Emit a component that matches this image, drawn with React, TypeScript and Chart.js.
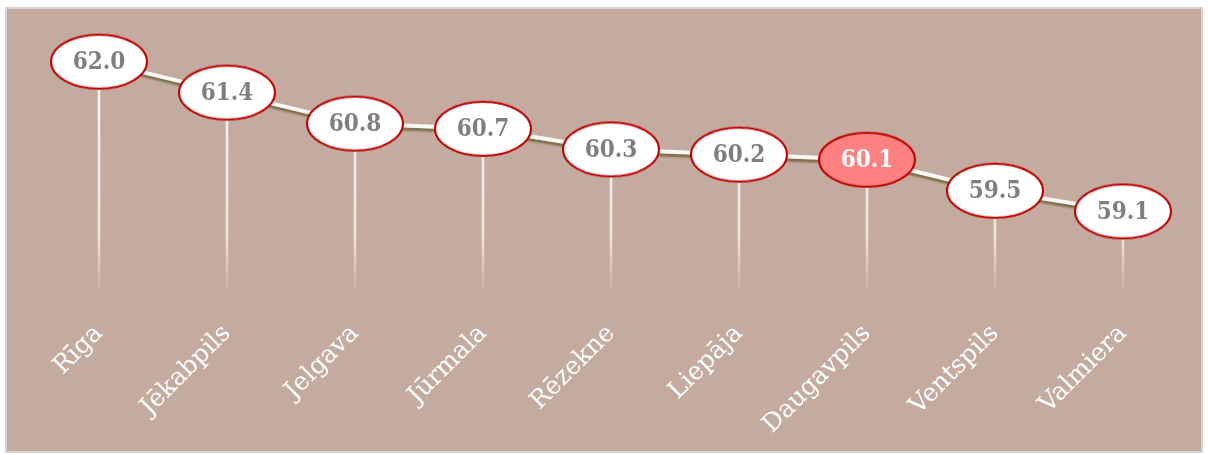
import React, { useEffect, useRef } from "react";
import { Chart, registerables } from "chart.js";

Chart.register(...registerables);

const categories = ["Rīga", "Jēkabpils", "Jelgava", "Jūrmala", "Rēzekne", "Liepāja", "Daugavpils", "Ventspils", "Valmiera"];
const values = [62.0, 61.4, 60.8, 60.7, 60.3, 60.2, 60.1, 59.5, 59.1];
const highlightIndex = 6;
const yMin = 57.5;
const yMax = 63;

function makeEllipse(fill: string): HTMLCanvasElement {
  const c = document.createElement("canvas");
  c.width = 100;
  c.height = 58;
  const ctx = c.getContext("2d")!;
  ctx.beginPath();
  ctx.ellipse(50, 29, 48, 27, 0, 0, Math.PI * 2);
  ctx.fillStyle = fill;
  ctx.fill();
  ctx.lineWidth = 2;
  ctx.strokeStyle = "#c00000";
  ctx.stroke();
  return c;
}

export default function App() {
  const ref = useRef<HTMLCanvasElement>(null);
  useEffect(() => {
    const normal = makeEllipse("#ffffff");
    const hi = makeEllipse("#ff8080");
    const labelPlugin = {
      id: "valueLabels",
      afterDatasetsDraw(chart: any) {
        const meta = chart.getDatasetMeta(0);
        const ctx = chart.ctx;
        ctx.save();
        ctx.font = "bold 24px 'DejaVu Serif Condensed', 'DejaVu Serif'";
        ctx.textAlign = "center";
        ctx.textBaseline = "middle";
        meta.data.forEach((pt: any, i: number) => {
          ctx.fillStyle = i === highlightIndex ? "#ffffff" : "#7f7f7f";
          ctx.fillText(values[i].toFixed(1), pt.x, pt.y + 1);
        });
        ctx.restore();
      },
    };
    const shadowPlugin = {
      id: "lineShadow",
      beforeDatasetDraw(chart: any, args: any) {
        if (args.index === 1) {
          const ctx = chart.ctx;
          ctx.save();
          ctx.shadowColor = "rgba(110,100,60,0.85)";
          ctx.shadowOffsetX = 1;
          ctx.shadowOffsetY = 3;
          ctx.shadowBlur = 2;
        }
      },
      afterDatasetDraw(chart: any, args: any) {
        if (args.index === 1) chart.ctx.restore();
      },
    };
    const chart = new Chart(ref.current!, {
      type: "line",
      data: {
        labels: categories,
        datasets: [
          {
            type: "line",
            data: values,
            showLine: false,
            pointStyle: values.map((_, i) => (i === highlightIndex ? hi : normal)) as any,
            pointRadius: 28,
            order: 0,
          },
          {
            type: "line",
            data: values,
            borderColor: "#fcf8f2",
            borderWidth: 4,
            pointRadius: 0,
            tension: 0,
            order: 1,
          },
          {
            type: "bar",
            data: values,
            barThickness: 2,
            order: 2,
            backgroundColor: (c: any) => {
              const area = c.chart.chartArea;
              if (!area) return "#ffffff";
              const g = c.chart.ctx.createLinearGradient(0, area.top, 0, area.bottom);
              g.addColorStop(0, "rgba(255,255,255,0.95)");
              g.addColorStop(0.8, "rgba(250,245,245,0.75)");
              g.addColorStop(1, "rgba(255,255,255,0)");
              return g;
            },
          } as any,
        ],
      },
      options: {
        responsive: false,
        animation: false,
        layout: { autoPadding: false, padding: { left: 28, right: 14, top: 1, bottom: 0 } },
        plugins: { legend: { display: false }, tooltip: { enabled: false } },
        scales: {
          y: { display: false, min: yMin, max: yMax },
          x: {
            offset: true,
            grid: { display: false, drawTicks: false },
            border: { display: false },
            afterFit: (s: any) => {
              s.height = 157;
              s.paddingLeft = 0;
              s.paddingRight = 0;
            },
            ticks: {
              color: "#ffffff",
              font: { family: "'DejaVu Serif'", size: 25 },
              minRotation: 45,
              maxRotation: 45,
              padding: 25,
            },
          },
        },
      },
      plugins: [labelPlugin, shadowPlugin],
    });
    return () => chart.destroy();
  }, []);
  return (
    <div
      style={{
        position: "absolute",
        left: 5,
        top: 7,
        width: 1194,
        height: 442,
        border: "2px solid #d4d4d4",
        background: "#c4aba0",
      }}
    >
      <canvas ref={ref} width={1194} height={442} style={{ display: "block" }} />
    </div>
  );
}
